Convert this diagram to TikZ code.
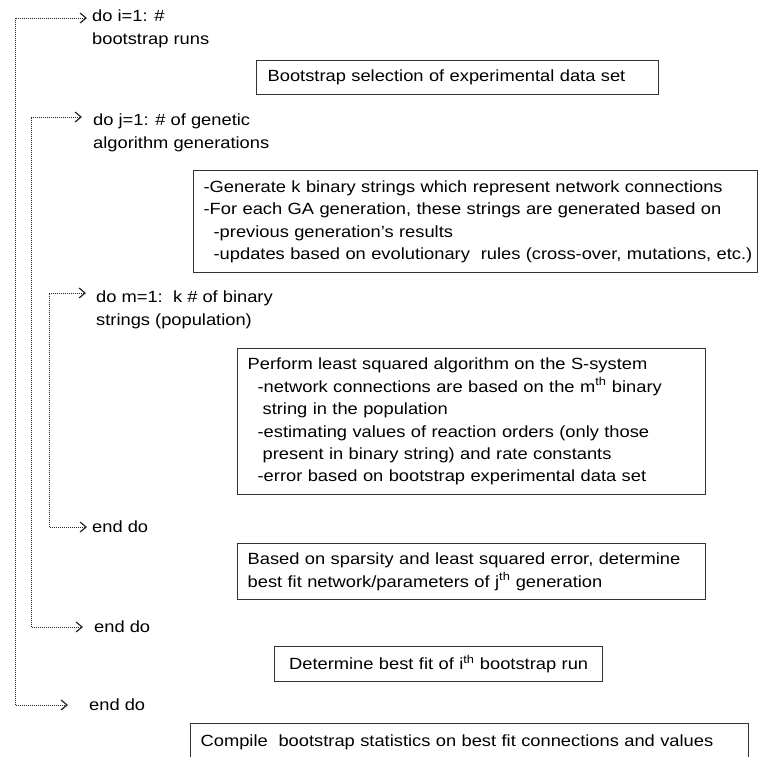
\documentclass[tikz,border=0pt]{standalone}
\usepackage{fontspec}
\setmainfont{Liberation Sans}[FakeStretch=1.13]
\usetikzlibrary{arrows.meta}
\tikzset{
  dl/.style={draw=black!85, line width=0.9pt, dash pattern=on 1.1pt off 0.9pt,
    arrows={Straight Barb[length=6pt,width=10pt,line width=1.2pt]-Straight Barb[length=6pt,width=10pt,line width=1.2pt]}},
  lbl/.style={inner sep=0pt, align=left, anchor=west, font=\fontsize{16.2}{22.4}\selectfont},
  box/.style={draw=black!80, line width=1.3pt, anchor=north west, inner xsep=10pt, inner ysep=0pt,
    font=\fontsize{16.2}{22.4}\selectfont},
}
\begin{document}
\begin{tikzpicture}[x=1pt,y=-1pt]
\useasboundingbox (0,0) rectangle (760,756);
\clip (0,0) rectangle (760,756);
% loop labels
\node[lbl] (ido) at (92,29) {do i=1: \#\\bootstrap runs};
\node[lbl] (jdo) at (93,133) {do j=1: \# of genetic\\algorithm generations};
\node[lbl] (mdo) at (96,310) {do m=1:\ \ k \# of binary\\strings (population)};
\node[lbl] (mend) at (92,527) {end do};
\node[lbl] (jend) at (94,627) {end do};
\node[lbl] (iend) at (89,705) {end do};
% boxes
\node[box, inner xsep=11pt, minimum width=402pt, minimum height=34pt, align=left, text width=380pt] (b1) at (256,60)
  {Bootstrap selection of experimental\ data set};
\node[box, minimum width=564pt, minimum height=102pt, align=left, text width=544pt] (ga) at (193,170)
  {-Generate k binary strings which represent network connections\\
   -For each GA generation, these strings are generated based on\\
   \hspace*{10pt}-previous generation's results\\
   \hspace*{10pt}\makebox[0pt][l]{-updates based on evolutionary\ \ rules (cross-over, mutations, etc.)}};
\node[box, minimum width=468pt, minimum height=146pt, align=left, text width=448pt] (lsq) at (237,348)
  {Perform least squared algorithm on the S-system\\
   \hspace*{10pt}-network\ connections are based on the m\textsuperscript{th} binary\\
   \hspace*{15pt}string in the population\\
   \hspace*{10pt}-estimating values\ of reaction orders (only\ those\\
   \hspace*{15pt}present in binary string) and rate constants\\
   \hspace*{10pt}-error based on bootstrap experimental\ data set};
\node[box, minimum width=468pt, minimum height=56pt, align=left, text width=448pt] (bs) at (237,543)
  {Based on sparsity and least squared error, determine\\
   best fit network/parameters\ of j\textsuperscript{th} generation};
\node[box, minimum width=328pt, minimum height=35pt, align=center, text width=308pt] (det) at (274,646)
  {Determine best fit of i\textsuperscript{th} bootstrap run};
\node[box, minimum width=558pt, minimum height=38pt, align=left, text width=538pt] (comp) at (190,723)
  {Compile\ \ bootstrap statistics on best fit connections and values};
% loop connectors
\coordinate (itop) at (87,18);
\coordinate (ibot) at (68,705);
\coordinate (icol) at (15,0);
\coordinate (jtop) at (82,117);
\coordinate (jbot) at (83,627);
\coordinate (jcol) at (31,0);
\coordinate (mtop) at (86,293);
\coordinate (mbot) at (87,527);
\coordinate (mcol) at (49,0);
\draw[dl] (itop) -| (ibot -| icol) -- (ibot);
\draw[dl] (jtop) -| (jbot -| jcol) -- (jbot);
\draw[dl] (mtop) -| (mbot -| mcol) -- (mbot);
\end{tikzpicture}
\end{document}
